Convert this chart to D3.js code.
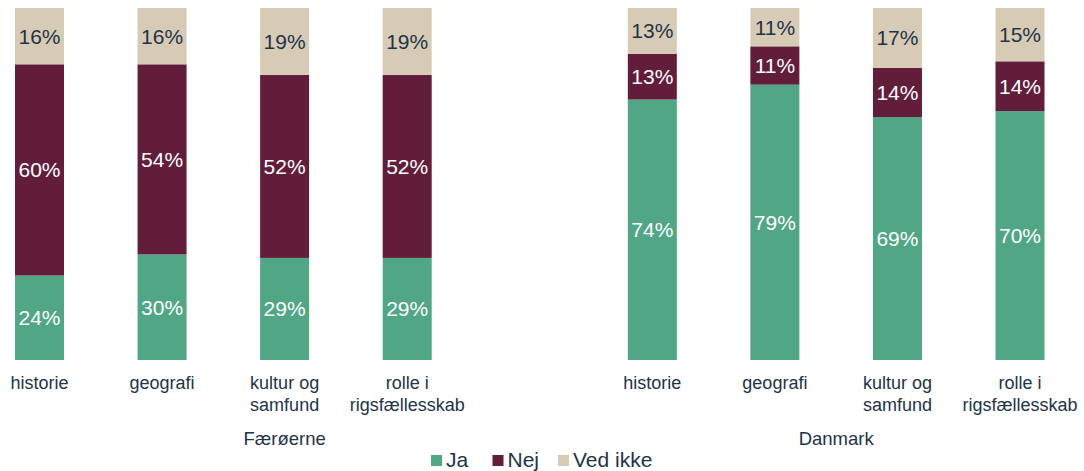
<!DOCTYPE html>
<html>
<head>
<meta charset="utf-8">
<script src="https://cdn.jsdelivr.net/npm/d3@7"></script>
<style>
  body { margin: 0; background: #fff; }
  text { font-family: "Liberation Sans", Arial, sans-serif; }
</style>
</head>
<body>
<div id="vis"></div>
<script>
// chart frame
const FRAME_WIDTH = 1084;
const FRAME_HEIGHT = 471;
const MARGINS = {top: 8, bottom: 111};

// data
const GROUPS = ["Færøerne", "Danmark"];
const TOPICS = [["historie"], ["geografi"], ["kultur og", "samfund"], ["rolle i", "rigsfællesskab"]];
const SERIES = ["Ja", "Nej", "Ved ikke"];
const JA = [24, 30, 29, 29, 74, 79, 69, 70];
const NEJ = [60, 54, 52, 52, 13, 11, 14, 14];
const VED_IKKE = [16, 16, 19, 19, 13, 11, 17, 15];
const COLORS = ["#50a685", "#621d3b", "#d8cbb6"];
const LABEL_COLORS = ["#ffffff", "#ffffff", "#1e3447"];

// one row per bar, slot 4 is the empty gap between the two groups
const rows = JA.map((d, i) => ({
  slot: i < 4 ? i : i + 1,
  group: i < 4 ? 0 : 1,
  topic: TOPICS[i % 4],
  "Ja": d, "Nej": NEJ[i], "Ved ikke": VED_IKKE[i]
}));

const SVG = d3.select("#vis")
  .append("svg")
    .attr("width", FRAME_WIDTH)
    .attr("height", FRAME_HEIGHT);

const X_SCALE = d3.scalePoint()
  .domain(d3.range(9))
  .range([39.5, 1020]);

const Y_SCALE = d3.scaleLinear()
  .domain([0, 1])
  .range([FRAME_HEIGHT - MARGINS.bottom, MARGINS.top]);

const BAR_W = 49;

const stacked = d3.stack()
  .keys(SERIES)
  .offset(d3.stackOffsetExpand)(rows);

// bars
const layers = SVG.selectAll(".layer")
  .data(stacked)
  .enter()
  .append("g")
    .attr("class", "layer")
    .attr("fill", (d, i) => COLORS[i]);

layers.selectAll("rect")
  .data(d => d)
  .enter()
  .append("rect")
    .attr("x", d => X_SCALE(d.data.slot) - BAR_W / 2)
    .attr("y", d => Y_SCALE(d[1]))
    .attr("width", BAR_W)
    .attr("height", d => Y_SCALE(d[0]) - Y_SCALE(d[1]));

// value labels
stacked.forEach((layer, li) => {
  SVG.append("g").selectAll("text")
    .data(layer)
    .enter()
    .append("text")
      .attr("x", d => X_SCALE(d.data.slot))
      .attr("y", d => (Y_SCALE(d[0]) + Y_SCALE(d[1])) / 2 + 7.5)
      .attr("text-anchor", "middle")
      .attr("font-size", "21px")
      .attr("fill", LABEL_COLORS[li])
      .text(d => d.data[layer.key] + "%");
});

// category labels
const cats = SVG.append("g").selectAll("text")
  .data(rows)
  .enter()
  .append("text")
    .attr("text-anchor", "middle")
    .attr("font-size", "18px")
    .attr("fill", "#1e3447")
    .attr("transform", d => "translate(" + X_SCALE(d.slot) + ",389)");

cats.selectAll("tspan")
  .data(d => d.topic)
  .enter()
  .append("tspan")
    .attr("x", 0)
    .attr("y", (d, i) => i * 22)
    .text(d => d);

// group labels (Færøerne spans slots 0-4, Danmark 5-8)
const GROUP_SPANS = [[0, 4], [5, 8]];
SVG.append("g").selectAll("text")
  .data(GROUPS)
  .enter()
  .append("text")
    .attr("x", (d, i) => (X_SCALE(GROUP_SPANS[i][0]) + X_SCALE(GROUP_SPANS[i][1])) / 2)
    .attr("y", 445)
    .attr("text-anchor", "middle")
    .attr("font-size", "18.5px")
    .attr("fill", "#1e3447")
    .text(d => d);

// legend
const LEGEND_X = [431, 492.5, 558];
const legend = SVG.append("g").selectAll("g")
  .data(SERIES)
  .enter()
  .append("g")
    .attr("transform", (d, i) => "translate(" + LEGEND_X[i] + ",455)");

legend.append("rect")
  .attr("width", 11)
  .attr("height", 11)
  .attr("fill", (d, i) => COLORS[i]);

legend.append("text")
  .attr("x", 15)
  .attr("y", 11.5)
  .attr("font-size", "21px")
  .attr("fill", "#1e3447")
  .text(d => d);
</script>
</body>
</html>
